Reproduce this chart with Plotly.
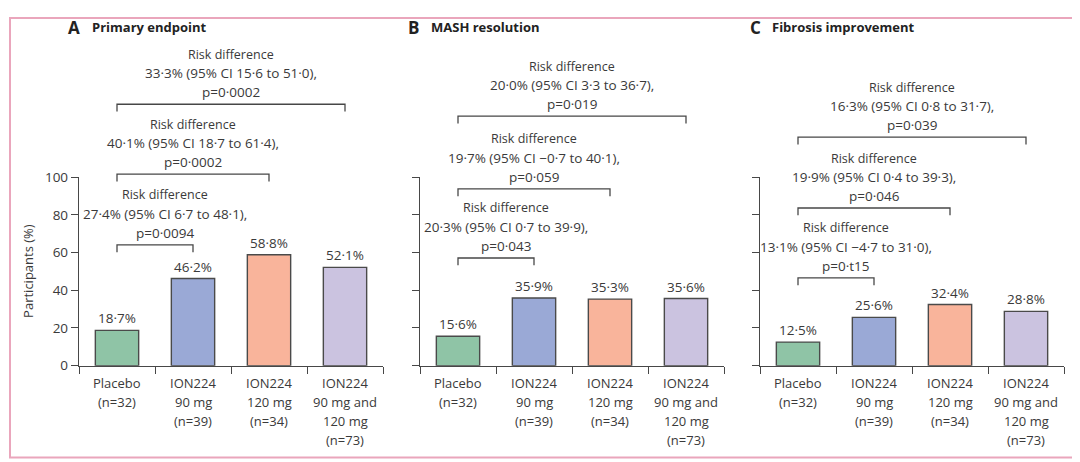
import plotly.graph_objects as go

# ---------------- data ----------------
group_lines = [
    ["Placebo", "(n=32)"],
    ["ION224", "90 mg", "(n=39)"],
    ["ION224", "120 mg", "(n=34)"],
    ["ION224", "90 mg and", "120 mg", "(n=73)"],
]
panel_letters = ["A", "B", "C"]
panel_titles = ["Primary endpoint", "MASH resolution", "Fibrosis improvement"]

primary = [18.7, 46.2, 58.8, 52.1]
mash = [15.6, 35.9, 35.3, 35.6]
fibrosis = [12.5, 25.6, 32.4, 28.8]

# comparisons: placebo (index 0) vs target index
comp_targets = [1, 2, 3]
primary_rd = [
    ("27·4% (95% CI 6·7 to 48·1),", "p=0·0094"),
    ("40·1% (95% CI 18·7 to 61·4),", "p=0·0002"),
    ("33·3% (95% CI 15·6 to 51·0),", "p=0·0002"),
]
mash_rd = [
    ("20·3% (95% CI 0·7 to 39·9),", "p=0·043"),
    ("19·7% (95% CI −0·7 to 40·1),", "p=0·059"),
    ("20·0% (95% CI 3·3 to 36·7),", "p=0·019"),
]
fibrosis_rd = [
    ("13·1% (95% CI −4·7 to 31·0),", "p=0·t15"),
    ("19·9% (95% CI 0·4 to 39·3),", "p=0·046"),
    ("16·3% (95% CI 0·8 to 31·7),", "p=0·039"),
]
y_ticks = [0, 20, 40, 60, 80, 100]

# ---------------- layout / style ----------------
W, H = 1080, 462
bar_colors = ["#8fc4a6", "#9aa9d6", "#f9b49b", "#cbc3e0"]
ink = "#3a3a3a"
axis_col = "#474747"
FONT = "Open Sans"

# page placement correction (figure lands slightly offset / shorter in the viewer)
OFF_X, OFF_Y, SCALE_Y = 7.0, 16.6, 0.963


def px_x(x_ref):
    return (x_ref - OFF_X) / W


def px_y(y_ref):
    y_in = (y_ref - OFF_Y) / SCALE_Y
    return min(1.0, max(0.0, 1 - y_in / H))


panel_x_px = [(78, 382), (419, 723), (759, 1063)]
bracket_levels = [[64.0, 101.6, 138.6], [57.1, 93.7, 132.3], [46.6, 83.6, 121.2]]
bracket_text_shift = [10, 0, 0]
letter_x_px = [65, 405, 747]
title_x_px = [89, 428, 769]

y0_px, y100_px = 366, 177
px_per_unit = (y0_px - y100_px) / 100.0
dom_bottom = px_y(y0_px)
dom_main_top = px_y(y100_px)
tall_top = (y0_px - OFF_Y) / px_per_unit

panels = [
    (primary, primary_rd),
    (mash, mash_rd),
    (fibrosis, fibrosis_rd),
]

fig = go.Figure()
annotations = []
xs = list(range(len(group_lines)))

for p, (vals, rds) in enumerate(panels):
    xa = "x" if p == 0 else f"x{p+1}"
    ya = "y" if p == 0 else f"y{p+1}"
    yt = f"y{p+4}"
    xa_key = "xaxis" if p == 0 else f"xaxis{p+1}"
    ya_key = "yaxis" if p == 0 else f"yaxis{p+1}"
    yt_key = f"yaxis{p+4}"

    fig.add_trace(go.Bar(
        x=xs, y=vals, xaxis=xa, yaxis=ya, width=0.57,
        marker=dict(color=bar_colors, line=dict(color="#4a4a4a", width=1.4)),
        hoverinfo="skip", showlegend=False,
    ))

    # value labels
    for i, v in enumerate(vals):
        annotations.append(dict(
            x=i, y=v, xref=xa, yref=ya, yanchor="middle", yshift=12,
            text=f"{v:.1f}".replace(".", "·") + "%", showarrow=False,
            font=dict(family=FONT, size=13.5, color=ink)))

    # group labels
    for i, lines in enumerate(group_lines):
        for k, line in enumerate(lines):
            annotations.append(dict(
                x=i, y=0, xref=xa, yref=ya, yanchor="middle", yshift=-17 - 19 * k,
                text=line, showarrow=False,
                font=dict(family=FONT, size=13, color=ink)))

    # brackets
    for b, (tgt, (rd, pv)) in enumerate(zip(comp_targets, rds)):
        lvl = bracket_levels[p][b]
        drop = 3.9
        fig.add_trace(go.Scatter(
            x=[0, 0, tgt, tgt], y=[lvl - drop, lvl, lvl, lvl - drop],
            xaxis=xa, yaxis=yt, mode="lines",
            line=dict(color=axis_col, width=1.3),
            hoverinfo="skip", showlegend=False,
        ))
        for k, (txt, sh, fs) in enumerate([(pv, 12, 13.5), (rd, 31, 13.5), ("Risk difference", 50, 12.5)]):
            annotations.append(dict(
                x=tgt / 2.0, y=lvl, xref=xa, yref=yt, yanchor="middle",
                yshift=sh, xshift=bracket_text_shift[b],
                text=txt, showarrow=False,
                font=dict(family=FONT, size=fs, color=ink)))

    x0, x1 = panel_x_px[p]
    fig.update_layout({
        xa_key: dict(domain=[px_x(x0), px_x(x1)], range=[-0.5, 3.5], anchor=ya,
                     showgrid=False, zeroline=False, showline=True,
                     linecolor=axis_col, linewidth=1.4,
                     tickmode="array", tickvals=[-0.5, 0.5, 1.5, 2.5, 3.5],
                     ticks="outside", ticklen=7, tickwidth=1.4, tickcolor=axis_col,
                     showticklabels=False, fixedrange=True),
        ya_key: dict(domain=[dom_bottom, dom_main_top], range=[0, 100], anchor=xa,
                     showgrid=False, zeroline=False, showline=True,
                     linecolor=axis_col, linewidth=1.4,
                     tickmode="array", tickvals=y_ticks,
                     ticks="outside", ticklen=7, tickwidth=1.4, tickcolor=axis_col,
                     showticklabels=(p == 0),
                     tickfont=dict(family=FONT, size=13.5, color=ink), fixedrange=True),
        yt_key: dict(domain=[dom_bottom, 1.0], range=[0, tall_top], anchor=xa,
                     visible=False, fixedrange=True),
    })

    # panel titles
    annotations.append(dict(
        x=px_x(letter_x_px[p]), y=px_y(27), xref="paper", yref="paper",
        xanchor="left", yanchor="middle", text=f"<b>{panel_letters[p]}</b>",
        showarrow=False, font=dict(family=FONT, size=17, color="#222222")))
    annotations.append(dict(
        x=px_x(title_x_px[p]), y=px_y(27), xref="paper", yref="paper",
        xanchor="left", yanchor="middle", text=f"<b>{panel_titles[p]}</b>",
        showarrow=False, font=dict(family=FONT, size=13, color="#222222")))

# y axis title
annotations.append(dict(
    x=px_x(27), y=px_y(271), xref="paper", yref="paper",
    xanchor="center", yanchor="middle", textangle=-90,
    text="Participants (%)", showarrow=False,
    font=dict(family=FONT, size=13, color=ink)))

fig.update_layout(
    width=W, height=H,
    margin=dict(l=0, r=0, t=0, b=0),
    paper_bgcolor="white", plot_bgcolor="rgba(0,0,0,0)",
    annotations=annotations,
    shapes=[dict(type="rect", xref="paper", yref="paper",
                 x0=px_x(9), x1=px_x(1075), y0=px_y(458), y1=0.998,
                 line=dict(color="#eaa6bc", width=2), fillcolor="rgba(0,0,0,0)")],
)

fig.write_html("out.html", config={"displayModeBar": False})
